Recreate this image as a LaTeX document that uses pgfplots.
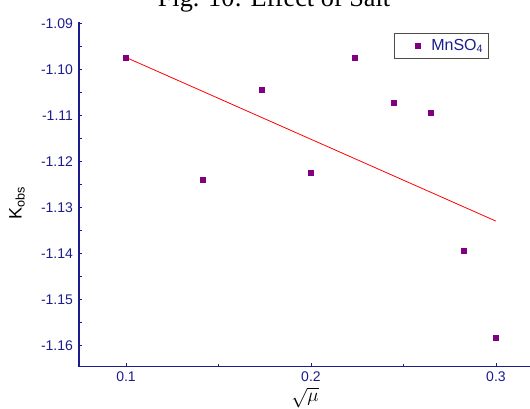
\documentclass[border=0pt]{standalone}
\usepackage{fontspec}
\setmainfont{Liberation Serif}
\newfontfamily\arial{Liberation Sans}
\usepackage{pgfplots}
\pgfplotsset{compat=1.18}
\usetikzlibrary{calc}
\definecolor{navy}{HTML}{1C1C8E}
\definecolor{pts}{HTML}{800080}

\begin{document}
\begin{tikzpicture}
\begin{axis}[
  scale only axis,
  width=338.25pt, height=258.5pt,
  xmin=0.0746, xmax=0.3184,
  ymin=-1.16465, ymax=-1.0897,
  axis x line=bottom, axis y line=left,
  axis line style={navy, line width=1.1pt, -},
  xtick={0.1,0.2,0.3}, minor xtick={0.15,0.25},
  ytick={-1.16,-1.15,-1.14,-1.13,-1.12,-1.11,-1.10,-1.09},
  minor y tick num=1,
  tick align=inside, major tick length=2.5pt, minor tick length=2pt,
  every tick/.style={navy, line width=0.6pt},
  scaled y ticks=false, scaled x ticks=false,
  ticklabel style={font=\arial\fontsize{10.5}{12}\selectfont, text=navy},
  /pgf/number format/assume math mode=true,
  yticklabel style={/pgf/number format/fixed, /pgf/number format/fixed zerofill,
    /pgf/number format/precision=2, xshift=-1pt},
  xticklabel style={/pgf/number format/fixed, /pgf/number format/precision=1},
  xlabel={$\sqrt{\mu}$},
  xlabel style={at={(axis description cs:0.501,-0.09)}, anchor=center,
    font=\fontsize{14}{16}\selectfont},
  ylabel={K\textsubscript{obs}},
  ylabel style={at={(axis description cs:-0.1375,0.475)}, anchor=center,
    font=\arial\fontsize{13.5}{15}\selectfont},
  legend style={at={(axis description cs:0.909,0.969)}, anchor=north east,
    draw=black!70, line width=0.6pt, text=navy,
    font=\arial\fontsize{12}{14}\selectfont, inner xsep=2pt, inner ysep=2.5pt},
  legend image code/.code={
    \path[draw=none, fill=none] (0pt,0pt) -- (24pt,0pt);
    \draw[only marks] plot coordinates {(16pt,0pt)};
  },
  legend cell align={left},
  clip=false,
]
% fitted line
\addplot[red, line width=0.6pt, forget plot] coordinates {(0.1,-1.0974) (0.3,-1.1330)};

\addplot[only marks, mark=square*, mark size=1.9pt, color=pts] coordinates {
  (0.1000,-1.0974) (0.1414,-1.1241) (0.1732,-1.1045) (0.2000,-1.1225)
  (0.2236,-1.0974) (0.2449,-1.1073) (0.2646,-1.1094) (0.2828,-1.1394)
  (0.3000,-1.1583)
};
\legend{MnSO\textsubscript{4}}

\coordinate (bl) at (rel axis cs:0,0);
\coordinate (tr) at (rel axis cs:1,1);
\coordinate (tl) at (rel axis cs:0,1);
\end{axis}
\node[font=\fontsize{19.7}{22}\selectfont, anchor=base] at ($(tl)+(146.25pt,11.6pt)$) {Fig. 10: Effect of Salt};
\pgfresetboundingbox
\path[use as bounding box] ($(bl)+(-59.25pt,-31pt)$) rectangle ($(tr)+(0,16.5pt)$);
\end{tikzpicture}
\end{document}
